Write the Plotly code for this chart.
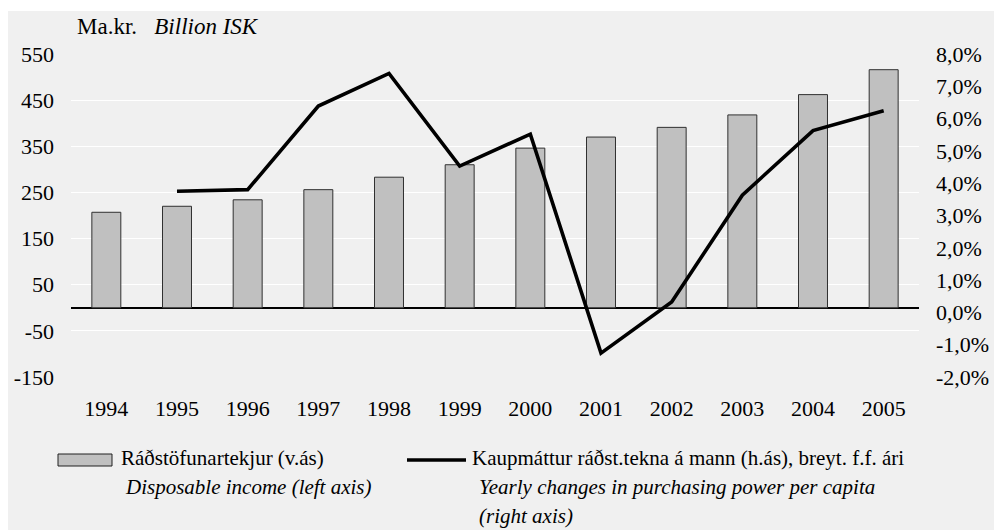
import plotly.graph_objects as go

years = ["1994", "1995", "1996", "1997", "1998", "1999", "2000", "2001", "2002", "2003", "2004", "2005"]
income = [207, 220, 234, 256, 283, 310, 346, 370, 391, 418, 462, 516]
pp_change = [None, 3.75, 3.80, 6.39, 7.40, 4.53, 5.52, -1.26, 0.32, 3.63, 5.63, 6.24]

left_ticks = [-150, -50, 50, 150, 250, 350, 450, 550]
left_text = ["-150", "-50", "50", "150", "250", "350", "450", "550"]
right_ticks = [-2, -1, 0, 1, 2, 3, 4, 5, 6, 7, 8]
right_text = ["-2,0%", "-1,0%", "0,0%", "1,0%", "2,0%", "3,0%", "4,0%", "5,0%", "6,0%", "7,0%", "8,0%"]

W, H = 994, 530
L, R, T, B = 71, 919, 54, 377
FONT = "Liberation Serif, Times New Roman, serif"
FS = 22
LFS = 21

def px(x):
    return (x - L) / (R - L)

def py(y):
    return (B - y) / (B - T)

fig = go.Figure()
fig.add_trace(go.Bar(
    x=years, y=income, name="Ráðstöfunartekjur (v.ás)",
    marker=dict(color="#c0c0c0", line=dict(color="#303030", width=1)),
    yaxis="y", showlegend=False,
))
fig.add_trace(go.Scatter(
    x=years, y=pp_change, mode="lines", name="Kaupmáttur",
    line=dict(color="black", width=3.6), yaxis="y2", showlegend=False,
))

shapes = [
    dict(type="rect", xref="paper", yref="paper", x0=px(8), x1=px(W + 5), y0=py(H + 5), y1=py(11),
         fillcolor="#f0f0f0", line=dict(width=0), layer="below"),
    # legend symbols
    dict(type="rect", xref="paper", yref="paper", x0=px(58), x1=px(112), y0=py(466), y1=py(454),
         fillcolor="#c0c0c0", line=dict(color="#202020", width=1)),
    dict(type="line", xref="paper", yref="paper", x0=px(407), x1=px(466), y0=py(460), y1=py(460),
         line=dict(color="black", width=3.6)),
]

def ann(x, y, text, size=LFS):
    return dict(xref="paper", yref="paper", x=px(x), y=py(y), text=text, showarrow=False,
                xanchor="left", yanchor="middle", font=dict(family=FONT, size=size, color="black"))

annotations = [
    ann(75, 27, "Ma.kr.&nbsp;&nbsp; <i>Billion ISK</i>", 23),
    ann(119, 458, "Ráðstöfunartekjur (v.ás)"),
    ann(123, 487, "<i>Disposable income (left axis)</i>"),
    ann(470, 458, "Kaupmáttur ráðst.tekna á mann (h.ás), breyt. f.f. ári"),
    ann(477, 487, "<i>Yearly changes in purchasing power per capita</i>"),
    ann(477, 516, "<i>(right axis)</i>"),
]

fig.update_layout(
    width=W, height=H,
    margin=dict(l=L, r=W - R, t=T, b=H - B, pad=0, autoexpand=False),
    paper_bgcolor="white", plot_bgcolor="#dadada",
    bargap=0.59,
    font=dict(family=FONT, size=FS, color="black"),
    showlegend=False,
    shapes=shapes, annotations=annotations,
    xaxis=dict(type="category", showgrid=False, zeroline=False, showline=False, automargin=False,
               ticks="", ticklabelstandoff=16, tickfont=dict(family=FONT, size=FS)),
    yaxis=dict(range=[-150, 550], tickvals=left_ticks, ticktext=left_text, automargin=False,
               showgrid=True, gridcolor="white", gridwidth=1.2,
               zeroline=True, zerolinecolor="black", zerolinewidth=1.5,
               showline=False, ticks="", ticklabelstandoff=16, tickfont=dict(family=FONT, size=FS)),
    yaxis2=dict(range=[-2, 8], tickvals=right_ticks, ticktext=right_text, overlaying="y", side="right",
                showgrid=False, zeroline=False, showline=False, ticks="", automargin=False,
                ticklabelstandoff=16, tickfont=dict(family=FONT, size=FS)),
)

fig.write_html("out.html")
